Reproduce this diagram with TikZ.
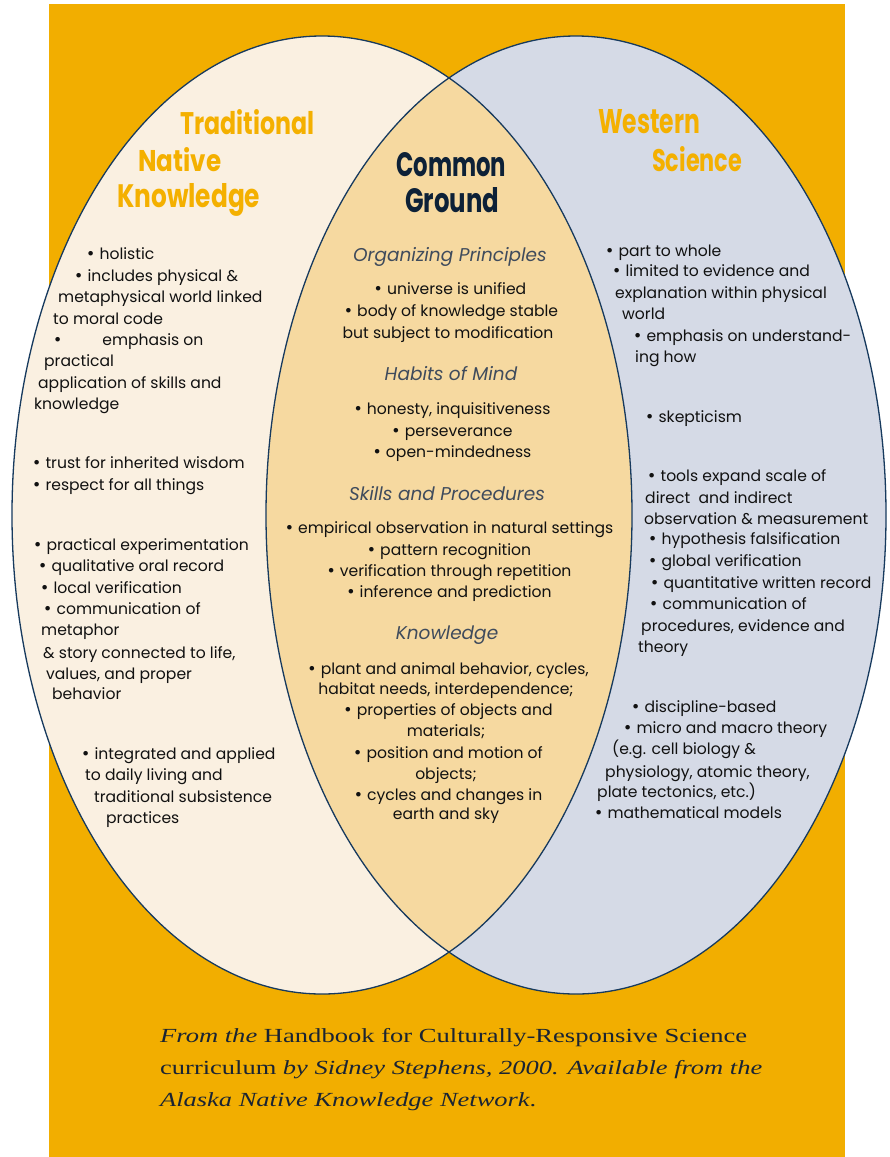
\documentclass[tikz,border=0pt]{standalone}
\usepackage{fontspec}
\usepackage{graphicx}
\setmainfont{Poppins}
\newfontfamily\capfont{Liberation Serif}
\newfontfamily\bulfont{DejaVu Sans}
\newcommand{\bul}{{\bulfont •}}
\definecolor{bgorange}{HTML}{F2AE00}
\definecolor{titleorange}{HTML}{F4B000}
\definecolor{creamfill}{HTML}{FAF0E1}
\definecolor{bluefill}{HTML}{D5DAE6}
\definecolor{tanfill}{HTML}{F6D9A0}
\definecolor{outlinec}{HTML}{173A5E}
\definecolor{cgnavy}{HTML}{0D2137}
\definecolor{headc}{HTML}{3F4B5C}
\definecolor{bodyc}{HTML}{111111}
\definecolor{capc}{HTML}{1A2433}
\tikzset{
  bodytxt/.style={anchor=base west, inner sep=0pt, text=bodyc, font=\fontsize{15.6}{18}\selectfont},
  midtxt/.style={anchor=base, inner sep=0pt, text=bodyc, font=\fontsize{15.6}{18}\selectfont},
  headtxt/.style={anchor=base, inner sep=0pt, text=headc, font=\fontsize{18.5}{22}\selectfont\itshape},
  titletxt/.style={anchor=base west, inner sep=0pt, text=titleorange},
  cgtxt/.style={anchor=base west, inner sep=0pt, text=cgnavy},
  captxt/.style={anchor=base west, inner sep=0pt, text=capc, font=\capfont\fontsize{20}{24}\selectfont},
  outline/.style={draw=outlinec, line width=1.3pt}
}
\begin{document}
\begin{tikzpicture}[x=1pt,y=-1pt]
\useasboundingbox (0,0) rectangle (890,1157);
\fill[white] (0,0) rectangle (890,1157);
\fill[bgorange] (49,4) rectangle (845,1157);
\fill[creamfill] (322,515) ellipse [x radius=310, y radius=479];
\fill[bluefill] (576,515) ellipse [x radius=310, y radius=479];
\begin{scope}
  \clip (322,515) ellipse [x radius=310, y radius=479];
  \fill[tanfill] (576,515) ellipse [x radius=310, y radius=479];
\end{scope}
\draw[outline] (322,515) ellipse [x radius=310, y radius=479];
\draw[outline] (576,515) ellipse [x radius=310, y radius=479];

% titles
\node[titletxt] (tTrad) at (180,134) {\resizebox{134pt}{25pt}{\bfseries Traditional}};
\node[titletxt] (tNat) at (138,171) {\resizebox{83pt}{24pt}{\bfseries Native}};
\node[titletxt] (tKnow) at (117,207) {\resizebox{143pt}{24pt}{\bfseries Knowledge}};
\node[titletxt] (tWest) at (598,133) {\resizebox{102pt}{24pt}{\bfseries Western}};
\node[titletxt] (tSci) at (652,171) {\resizebox{90pt}{25pt}{\bfseries Science}};
\node[cgtxt] (tCom) at (396,176) {\resizebox{110pt}{24pt}{\bfseries Common}};
\node[cgtxt] (tGro) at (405,212) {\resizebox{94pt}{25pt}{\bfseries Ground}};

% headings
\node[headtxt] (hOrg) at (450,261) {Organizing Principles};
\node[headtxt] (hHab) at (451,380) {Habits of Mind};
\node[headtxt] (hSki) at (447,500) {Skills and Procedures};
\node[headtxt] (hKno) at (447,639) {Knowledge};

% left column
\foreach \x/\y/\t [count=\i] in {
  86/259/{\bul\ holistic},
  74/281/{\bul\ includes physical \&},
  58/302/{metaphysical world linked},
  53/324/{to moral code},
  53/345/{\bul\hspace{40pt}emphasis on},
  44/366/{practical},
  38/388/{application of skills and},
  34/409/{knowledge},
  32/468/{\bul\ trust for inherited wisdom},
  32/490/{\bul\ respect for all things},
  33/550/{\bul\ practical experimentation},
  38/571/{\bul\ qualitative oral record},
  40/593/{\bul\ local verification},
  43/614/{\bul\ communication of},
  41/635/{metaphor},
  43/658/{\& story connected to life,},
  46/679/{values, and proper},
  52/699/{behavior},
  81/759/{\bul\ integrated and applied},
  85/780/{to daily living and},
  94/802/{traditional subsistence},
  106/823/{practices}}
  {\node[bodytxt] (L\i) at (\x,\y) {\t};}

% middle column
\foreach \x/\y/\t [count=\i] in {
  450/294/{\bul\ universe is unified},
  451/316/{\bul\ body of knowledge stable},
  448/338/{but subject to modification},
  452/414/{\bul\ honesty, inquisitiveness},
  452/436/{\bul\ perseverance},
  452/457/{\bul\ open-mindedness},
  449/533/{\bul\ empirical observation in natural settings},
  449/555/{\bul\ pattern recognition},
  449/576/{\bul\ verification through repetition},
  449/597/{\bul\ inference and prediction},
  448/674/{\bul\ plant and animal behavior, cycles,},
  446/694/{habitat needs, interdependence;},
  448/715/{\bul\ properties of objects and},
  446/736/{materials;},
  448/758/{\bul\ position and motion of},
  446/779/{objects;},
  448/800/{\bul\ cycles and changes in},
  446/819/{earth and sky}}
  {\node[midtxt] (M\i) at (\x,\y) {\t};}

% right column
\foreach \x/\y/\t [count=\i] in {
  605/256/{\bul\ part to whole},
  612/276/{\bul\ limited to evidence and},
  615/298/{explanation within physical},
  622/319/{world},
  633/341/{\bul\ emphasis on understand-},
  635/362/{ing how},
  645/422/{\bul\ skepticism},
  647/481/{\bul\ tools expand scale of},
  645/503/{direct\ \ and indirect},
  644/524/{observation \& measurement},
  648/544/{\bul\ hypothesis falsification},
  648/566/{\bul\ global verification},
  650/588/{\bul\ quantitative written record},
  649/609/{\bul\ communication of},
  641/631/{procedures, evidence and},
  638/652/{theory},
  631/712/{\bul\ discipline-based},
  623/733/{\bul\ micro and macro theory},
  612/754/{(e.g. cell biology \&},
  605/777/{physiology, atomic theory,},
  597/797/{plate tectonics, etc.)},
  594/818/{\bul\ mathematical models}}
  {\node[bodytxt] (R\i) at (\x,\y) {\t};}

% caption
\node[captxt] (c1) at (160,1042) {\resizebox{587pt}{\height}{\itshape From the \upshape Handbook for Culturally-Responsive Science}};
\node[captxt] (c2) at (160,1074) {\resizebox{602pt}{\height}{curriculum \itshape by Sidney Stephens, 2000. Available from the}};
\node[captxt] (c3) at (160,1106) {\resizebox{376pt}{\height}{\itshape Alaska Native Knowledge Network\upshape .}};
\end{tikzpicture}
\end{document}
